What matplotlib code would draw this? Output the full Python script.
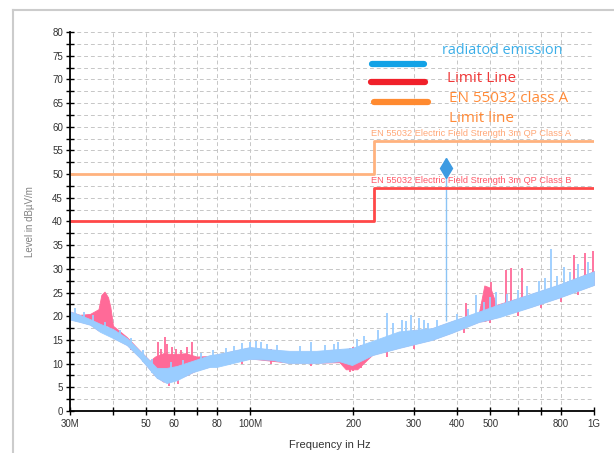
import matplotlib
matplotlib.use("Agg")
import matplotlib.pyplot as plt
from matplotlib.lines import Line2D
import numpy as np

# ---------------- data (MHz, dBuV/m) ----------------
blue_f  = [30, 32, 34.3, 36.7, 40, 43.9, 47.9, 51.2, 53.6, 57.3, 61.3, 68.2, 76.4, 80,
           100, 116, 130, 156, 182, 198, 227, 271, 338, 386, 463, 529, 659, 790, 1000]
blue_lo = [19.3, 18.8, 18.2, 16.7, 15.4, 13.9, 11.2, 8.7, 7.0, 5.9, 6.5, 8.2, 9.3, 9.3,
           11.0, 10.8, 10.1, 10.1, 10.5, 9.7, 11.8, 13.3, 15.0, 16.5, 18.8, 19.8, 22.0, 23.9, 26.6]
blue_hi = [21.0, 20.3, 19.4, 18.4, 17.3, 15.4, 12.7, 10.6, 9.1, 9.1, 9.5, 10.6, 11.8, 12.0,
           13.5, 13.0, 12.7, 12.7, 13.1, 13.3, 14.8, 16.8, 17.5, 19.0, 21.0, 22.5, 24.8, 26.7, 29.5]

pink_f  = [30, 32, 34.3, 36.3, 37, 37.8, 38.7, 39.3, 40, 43.9, 47.9, 51.2, 53, 56, 60, 65, 70,
           76.4, 100, 130, 156, 182, 190, 205, 227, 271, 338, 386, 463, 480, 500, 520, 659, 790, 1000]
pink_lo = [19.4, 18.9, 18.3, 17.0, 17.5, 18.0, 18.0, 17.0, 15.5, 14.0, 11.3, 8.8, 7.5, 6.2, 6.5, 7.5, 8.6,
           9.4, 11.1, 10.2, 10.2, 10.3, 8.8, 8.8, 11.9, 13.4, 15.1, 16.6, 18.9, 19.0, 19.4, 19.8, 22.1, 24.0, 26.7]
pink_hi = [21.0, 20.3, 20.5, 21.5, 24.5, 25.2, 24.0, 22.0, 18.0, 15.6, 12.7, 10.6, 11.5, 12.2, 12.0, 12.2, 11.5,
           11.6, 13.4, 12.5, 12.5, 13.0, 12.8, 13.0, 14.5, 16.6, 17.4, 18.9, 20.8, 26.5, 26.0, 22.4, 24.7, 26.6, 29.5]

# narrow peaks above the traces (freq, top)
pink_spike_f   = [54.1, 55.2, 56.6, 57.6, 59.2, 61, 63, 65.5, 68, 424, 488, 502, 554, 573, 617, 873, 939, 995]
pink_spike_top = [14.6, 13.0, 15.6, 14.2, 13.5, 13.0, 12.8, 13.6, 14.6, 22.8, 26.0, 27.2, 29.8, 30.2, 30.2, 32.9, 33.4, 33.8]
blue_spike_f   = [31, 33, 35, 38, 42, 45, 49, 52, 59, 64, 72, 78, 85, 90, 95, 100, 104, 108, 112, 120,
                  140, 150, 165, 175, 180, 205, 215, 235, 250, 260, 277, 285, 294, 310, 320, 330, 350,
                  400, 430, 454, 480, 500, 520, 560, 600, 640, 690, 720, 748, 780, 816, 850, 900, 960]
blue_spike_top = [21.8, 20.8, 20.3, 18.7, 17.0, 15.5, 12.9, 10.9, 10.3, 10.8, 12.3, 12.9, 13.3, 13.8, 14.3, 14.6,
                  14.8, 14.6, 14.2, 13.9, 13.8, 14.6, 14.0, 14.2, 14.6, 15.1, 15.8, 17.0, 20.7, 18.5, 19.2,
                  19.0, 20.3, 19.6, 19.2, 18.5, 19.3, 20.5, 21.5, 24.5, 23.0, 24.0, 25.2, 24.8, 25.6, 26.3,
                  27.5, 28.0, 34.2, 28.5, 30.4, 29.3, 31.0, 31.5]
# dips below the blue trace where the pink trace shows (freq, bottom)
pink_dip_f   = [45, 58, 62, 95, 115, 150, 195, 200, 210, 250, 300, 420, 500, 600, 700, 800, 900]
pink_dip_bot = [12.8, 5.3, 5.8, 10.0, 10.0, 9.6, 8.3, 8.5, 9.0, 11.5, 13.0, 16.5, 18.5, 20.0, 21.8, 23.0, 24.5]

marker_f, marker_lo, marker_v, marker_top = 371, 19.0, 51.3, 53.4

limA_f = [30, 230, 230, 1000]
limA_v = [50, 50, 57, 57]
limB_f = [30, 230, 230, 1000]
limB_v = [40, 40, 47, 47]

xticks = [30, 40, 50, 60, 70, 80, 100, 200, 300, 400, 500, 600, 700, 800, 1000]
xticklabels = ['30M', '', '50', '60', '', '80', '100M', '200', '300', '400', '500', '', '', '800', '1G']

W, H = 614, 453
fig = plt.figure(figsize=(W / 100, H / 100), dpi=100)
plt.rcParams['font.family'] = ['Liberation Sans', 'DejaVu Sans']

L, R, T, B = 70, 594, 32, 411
ax = fig.add_axes([L / W, 1 - B / H, (R - L) / W, (B - T) / H])
ax.set_xscale('log')
ax.set_xlim(30, 1000)
ax.set_ylim(0, 80)

pink = '#FF6A98'
blue = '#9ACDFF'

def base(f, ff, vv):
    return np.interp(np.log10(f), np.log10(ff), vv)

ax.fill_between(pink_f, pink_lo, pink_hi, color=pink, lw=0.6, zorder=3)
ax.vlines(pink_spike_f, base(pink_spike_f, blue_f, blue_lo), pink_spike_top, color=pink, lw=1.3, zorder=3)
ax.vlines(pink_dip_f, pink_dip_bot, base(pink_dip_f, blue_f, blue_hi), color=pink, lw=1.3, zorder=3)
ax.fill_between(blue_f, blue_lo, blue_hi, color=blue, lw=0.6, zorder=4)
ax.vlines(blue_spike_f, base(blue_spike_f, blue_f, blue_lo), blue_spike_top, color=blue, lw=1.3, zorder=4)
ax.vlines([marker_f], [marker_lo], [marker_top], color='#8CC4F5', lw=1.0, zorder=4)
ax.plot([marker_f], [marker_v], marker='d', ms=10, color='#3D9BE2', zorder=6)

ax.plot(limA_f, limA_v, color='#FFB27E', lw=2, zorder=5)
ax.plot(limB_f, limB_v, color='#FF4848', lw=2, zorder=5)
ax.text(225, 57.6, 'EN 55032 Electric Field Strength 3m QP Class A', color='#FFA878',
        fontsize=6.7, va='bottom', ha='left', zorder=6)
ax.text(225, 47.6, 'EN 55032 Electric Field Strength 3m QP Class B', color='#FF5A6A',
        fontsize=6.7, va='bottom', ha='left', zorder=6)

# axes style
ax.set_xticks(xticks)
ax.set_xticklabels(xticklabels)
ax.xaxis.set_minor_locator(matplotlib.ticker.NullLocator())
ax.set_yticks(np.arange(0, 81, 5))
ax.set_yticks(np.arange(2.5, 80, 5), minor=True)
ax.tick_params(axis='both', which='both', direction='inout', length=6, width=1,
               color='black', labelsize=7, labelcolor='#333333')
ax.tick_params(axis='x', pad=3)
ax.tick_params(axis='y', pad=2)
for s in ['top', 'right']:
    ax.spines[s].set_visible(False)
for s in ['left', 'bottom']:
    ax.spines[s].set_linewidth(1.3)
    ax.spines[s].set_zorder(7)
ax.grid(True, which='both', axis='y', color='#C6C6C6', ls=(0, (4, 3)), lw=0.7, zorder=1)
ax.grid(True, which='major', axis='x', color='#C6C6C6', ls=(0, (4, 3)), lw=0.7, zorder=1)
ax.set_axisbelow(True)

fig.text(330 / W, 1 - 445 / H, 'Frequency in Hz', ha='center', va='center', fontsize=8, color='#333333')
fig.text(30 / W, 1 - 222 / H, 'Level in dBµV/m', ha='center', va='center', rotation=90,
         fontsize=7, color='#808080')

# legend
def fx(x): return x / W
def fy(y): return 1 - y / H
for y, c, x0, x1 in [(64, '#12A2E6', 372, 424), (81.5, '#F0202A', 371, 425), (102, '#FF8A30', 374, 428)]:
    fig.add_artist(Line2D([fx(x0), fx(x1)], [fy(y), fy(y)], color=c, lw=4.5,
                          solid_capstyle='round', zorder=8))
fig.text(fx(442), fy(50), 'radiatod emission', color='#3AAEE8', fontsize=10.4,
         family='Open Sans', va='center', ha='left')
fig.text(fx(447), fy(79), 'Limit Line', color='#F03838', fontsize=11,
         family='Open Sans', va='center', ha='left')
fig.text(fx(449), fy(99), 'EN 55032 class A', color='#FF8A38', fontsize=11,
         family='Open Sans', va='center', ha='left')
fig.text(fx(449), fy(119), 'Limit line', color='#FF8A38', fontsize=11,
         family='Open Sans', va='center', ha='left')

# outer frame
fig.add_artist(Line2D([fx(13), fx(13)], [fy(10), 0], color='#CCCCCC', lw=1.5))
fig.add_artist(Line2D([fx(13), 1], [fy(10), fy(10)], color='#CCCCCC', lw=1.5))

fig.savefig('out.png', dpi=100)
